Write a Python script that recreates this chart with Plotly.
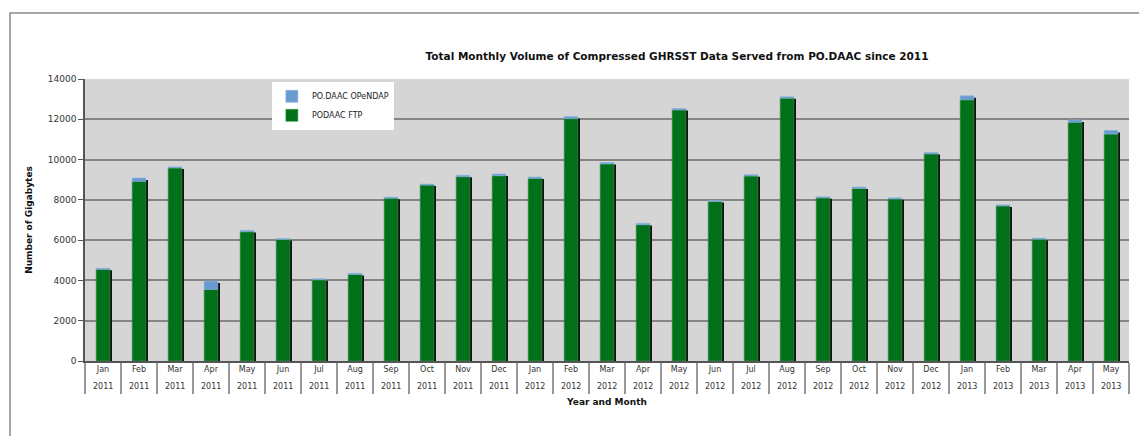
import plotly.graph_objects as go

months = ["Jan","Feb","Mar","Apr","May","Jun","Jul","Aug","Sep","Oct","Nov","Dec",
          "Jan","Feb","Mar","Apr","May","Jun","Jul","Aug","Sep","Oct","Nov","Dec",
          "Jan","Feb","Mar","Apr","May"]
years = ["2011"]*12 + ["2012"]*12 + ["2013"]*5

ftp = [4550, 8917, 9583, 3550, 6417, 6033, 4033, 4300, 8083, 8733, 9150, 9200,
       9067, 12033, 9783, 6767, 12467, 7917, 9183, 13050, 8100, 8567, 8050, 10283,
       12967, 7700, 6050, 11850, 11267]
opendap = [50, 166, 50, 417, 66, 50, 50, 50, 50, 50, 67, 83,
           66, 100, 67, 66, 66, 50, 67, 67, 50, 66, 50, 67,
           200, 50, 50, 117, 183]

x = list(range(len(months)))
total = [a + b for a, b in zip(ftp, opendap)]
shadow = [t - 100 for t in total]

GREEN = "#00701a"
BLUE = "#6a9bd0"
BW = 0.38

# page has an 8px body margin; figure coordinates are shifted accordingly
W, H = 1139, 428
L, T, R, B = 77, 71, 18, 75
PW, PH = W - L - R, H - T - B

fig = go.Figure()
fig.add_trace(go.Bar(x=x, y=shadow, base=0, width=BW, offset=-BW/2 + 0.06,
                     marker=dict(color="#111111", line=dict(width=0)),
                     showlegend=False, hoverinfo="skip"))
fig.add_trace(go.Bar(x=x, y=ftp, base=0, width=BW, name="PODAAC FTP",
                     marker=dict(color=GREEN, line=dict(width=0.6, color="#3c9a4c"))))
fig.add_trace(go.Bar(x=x, y=opendap, base=ftp, width=BW, name="PO.DAAC OPeNDAP",
                     marker=dict(color=BLUE, line=dict(width=0.6, color="#8ab4de"))))

annotations = []
for i, yr in enumerate(years):
    annotations.append(dict(x=i, y=-0.092, xref="x", yref="paper", text=yr,
                            showarrow=False, font=dict(family="DejaVu Sans", size=8, color="#333"),
                            xanchor="center", yanchor="middle"))

fig.update_layout(
    width=W, height=H,
    margin=dict(l=L, r=R, t=T, b=B, autoexpand=False),
    barmode="overlay",
    paper_bgcolor="white",
    plot_bgcolor="#d5d5d5",
    font=dict(family="DejaVu Sans", size=9, color="#333"),
    title=dict(text="<b>Total Monthly Volume of Compressed GHRSST Data Served from PO.DAAC since 2011</b>",
               font=dict(family="DejaVu Sans", size=10.5, color="#111"),
               x=669/W, xanchor="center", y=1-48/H, yanchor="middle"),
    legend=dict(x=0.179, y=0.99, xanchor="left", yanchor="top", traceorder="reversed",
                bgcolor="white", font=dict(size=8, color="#222"),
                itemwidth=30, tracegroupgap=0),
    annotations=annotations,
    shapes=[dict(type="rect", xref="paper", yref="paper",
                 x0=(2-L)/PW, x1=1.2, y0=-0.5, y1=(PH + T - 5)/PH,
                 line=dict(color="#8a8a8a", width=1.5), fillcolor="rgba(0,0,0,0)", layer="below")],
)

fig.update_xaxes(
    automargin=False,
    range=[-0.5, len(months) - 0.5],
    tickmode="array", tickvals=x, ticktext=months,
    ticks="", tickfont=dict(size=8, color="#333"),
    showgrid=False, zeroline=False,
    showline=True, linecolor="#555", linewidth=1.5,
    minor=dict(tickmode="linear", tick0=-0.5, dtick=1, ticks="outside", ticklen=31,
               tickcolor="#999", tickwidth=1.5, showgrid=False),
    title=dict(text="<b>Year and Month</b>", font=dict(size=9, color="#111"), standoff=25),
)
fig.update_yaxes(
    automargin=False,
    range=[0, 14000], tickmode="linear", tick0=0, dtick=2000, tickformat="d",
    showgrid=True, gridcolor="#858585", gridwidth=1.5,
    zeroline=False, showline=True, linecolor="#555", linewidth=1.5,
    ticks="outside", ticklen=5, tickcolor="#555", tickfont=dict(size=9, color="#333"),
    title=dict(text="<b>Number of Gigabytes</b>", font=dict(size=9, color="#111"), standoff=14),
)

fig.write_html("out.html")
